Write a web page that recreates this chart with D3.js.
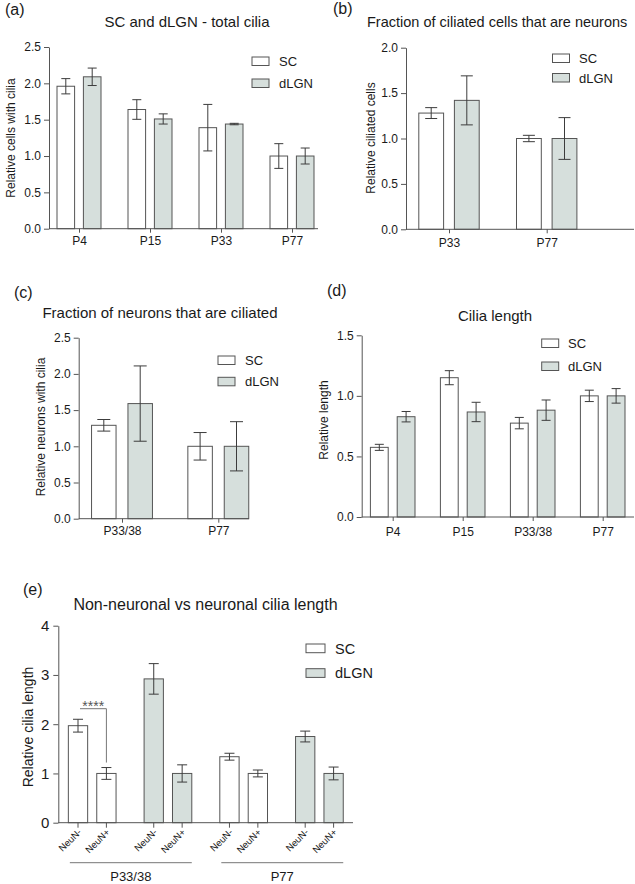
<!DOCTYPE html>
<html><head><meta charset="utf-8">
<script src="https://cdn.jsdelivr.net/npm/d3@7"></script>
<style>
body{margin:0;background:#fff}
svg{display:block}
text{font-family:"Liberation Sans",Arial,sans-serif;fill:#1a1a1a}
</style>
</head><body>
<svg id="fig" width="635" height="884"></svg>
<script>
// ---------------- DATA ----------------
const seriesNames = ["SC", "dLGN"];

// (a) SC and dLGN - total cilia
const aCategories = ["P4", "P15", "P33", "P77"];
const aSC = [1.96, 1.64, 1.39, 1.00];
const aSCerr = [0.105, 0.135, 0.32, 0.17];
const aDLGN = [2.09, 1.51, 1.44, 1.00];
const aDLGNerr = [0.12, 0.07, 0.01, 0.11];
const aTicks = [0, 0.5, 1.0, 1.5, 2.0, 2.5];

// (b) Fraction of ciliated cells that are neurons
const bCategories = ["P33", "P77"];
const bSC = [1.28, 1.00];
const bSCerr = [0.06, 0.035];
const bDLGN = [1.42, 1.00];
const bDLGNerr = [0.27, 0.23];
const bTicks = [0, 0.5, 1.0, 1.5, 2.0];

// (c) Fraction of neurons that are ciliated
const cCategories = ["P33/38", "P77"];
const cSC = [1.29, 1.00];
const cSCerr = [0.08, 0.19];
const cDLGN = [1.59, 1.00];
const cDLGNerr = [0.52, 0.34];
const cTicks = [0, 0.5, 1.0, 1.5, 2.0, 2.5];

// (d) Cilia length
const dCategories = ["P4", "P15", "P33/38", "P77"];
const dSC = [0.575, 1.15, 0.775, 1.00];
const dSCerr = [0.025, 0.058, 0.047, 0.047];
const dDLGN = [0.828, 0.867, 0.882, 1.00];
const dDLGNerr = [0.043, 0.08, 0.084, 0.06];
const dTicks = [0, 0.5, 1.0, 1.5];

// (e) Non-neuronal vs neuronal cilia length
const eAges = ["P33/38", "P77"];
const eSubs = ["NeuN-", "NeuN+"];
const eAgeOf = ["P33/38", "P33/38", "P33/38", "P33/38", "P77", "P77", "P77", "P77"];
const eSeriesOf = ["SC", "SC", "dLGN", "dLGN", "SC", "SC", "dLGN", "dLGN"];
const eSubOf = ["NeuN-", "NeuN+", "NeuN-", "NeuN+", "NeuN-", "NeuN+", "NeuN-", "NeuN+"];
const eValues = [1.97, 1.00, 2.92, 1.00, 1.34, 1.00, 1.75, 1.00];
const eErrors = [0.13, 0.12, 0.31, 0.175, 0.07, 0.07, 0.11, 0.13];
const eTicks = [0, 1, 2, 3, 4];
const eSignif = "****";

// ---------------- STYLE ----------------
const FILL = {SC: "#ffffff", dLGN: "#d6dfdc"};
const STROKE = "#555555";
const ERR = "#3c3c3c";

const svg = d3.select("#fig");

function styleAxis(g) {
  g.selectAll("path,line").attr("stroke", STROKE).attr("stroke-width", 1);
  g.selectAll("text").attr("fill", "#1a1a1a");
}

function legend(g, x, y0, dy, bw, bh, tx, fs, by) {
  seriesNames.forEach((s, i) => {
    const yy = y0 + i * dy;
    g.append("rect").attr("x", x).attr("y", yy).attr("width", bw).attr("height", bh)
      .attr("fill", FILL[s]).attr("stroke", STROKE).attr("stroke-width", 1);
    g.append("text").attr("x", tx).attr("y", yy + by).attr("font-size", fs).text(s);
  });
}

function errorBar(g, cx, y, v, e, cap) {
  const y1 = y(v + e), y2 = y(v - e);
  g.append("line").attr("x1", cx).attr("x2", cx).attr("y1", y1).attr("y2", y2)
    .attr("stroke", ERR).attr("stroke-width", 1);
  [y1, y2].forEach(yy => g.append("line").attr("x1", cx - cap).attr("x2", cx + cap)
    .attr("y1", yy).attr("y2", yy).attr("stroke", ERR).attr("stroke-width", 1));
}

function grouped(cfg) {
  const g = svg.append("g");
  const y = d3.scaleLinear().domain([0, cfg.ymax]).range([cfg.yBot, cfg.yTop]);
  const x = d3.scalePoint().domain(cfg.cats).range(cfg.centers);
  const series = [
    {name: "SC", vals: cfg.sc, errs: cfg.scErr, off: -cfg.off},
    {name: "dLGN", vals: cfg.dl, errs: cfg.dlErr, off: cfg.off}
  ];
  series.forEach(s => {
    cfg.cats.forEach((c, i) => {
      const cx = x(c) + s.off;
      g.append("rect").attr("x", cx - cfg.bw / 2).attr("y", y(s.vals[i]))
        .attr("width", cfg.bw).attr("height", y(0) - y(s.vals[i]))
        .attr("fill", FILL[s.name]).attr("stroke", STROKE).attr("stroke-width", 1);
      errorBar(g, cx, y, s.vals[i], s.errs[i], cfg.cap);
    });
  });
  const ya = g.append("g").attr("transform", `translate(${cfg.x0},0)`)
    .call(d3.axisLeft(y).tickValues(cfg.ticks).tickFormat(d3.format(".1f"))
      .tickSize(5).tickSizeOuter(0).tickPadding(3));
  ya.selectAll("text").attr("font-size", cfg.tickFs).style("font-family", "Liberation Sans, Arial, sans-serif");
  styleAxis(ya);
  g.append("line").attr("x1", cfg.x0).attr("x2", cfg.x1).attr("y1", cfg.yBot).attr("y2", cfg.yBot)
    .attr("stroke", STROKE);
  const xa = g.append("g").attr("transform", `translate(0,${cfg.yBot})`)
    .call(d3.axisBottom(x).tickSize(4).tickSizeOuter(0).tickPadding(cfg.xPad));
  xa.select(".domain").remove();
  xa.selectAll("text").attr("font-size", cfg.tickFs).style("font-family", "Liberation Sans, Arial, sans-serif");
  styleAxis(xa);
  g.append("text").attr("x", cfg.plx).attr("y", cfg.ply).attr("font-size", 16).text(cfg.panel);
  g.append("text").attr("x", cfg.tx).attr("y", cfg.ty).attr("font-size", cfg.tfs)
    .attr("text-anchor", cfg.tAnchor || "middle").text(cfg.title);
  g.append("text").attr("transform", `translate(${cfg.ylx},${cfg.yly}) rotate(-90)`)
    .attr("text-anchor", "middle").attr("font-size", 12).text(cfg.ylabel);
  legend(g, cfg.lx, cfg.ly, cfg.ldy, 17, 8.5, cfg.ltx, 13, 9);
}

grouped({panel: "(a)", plx: 5, ply: 15, title: "SC and dLGN - total cilia", tx: 187, ty: 27, tfs: 15,
  ylabel: "Relative cells with cilia", ylx: 15, yly: 138,
  cats: aCategories, sc: aSC, scErr: aSCerr, dl: aDLGN, dlErr: aDLGNerr, ticks: aTicks, ymax: 2.5,
  x0: 49, x1: 318, yTop: 47, yBot: 228.7, centers: [79, 292], off: 13.2, bw: 17.6, cap: 4.5,
  tickFs: 12, xPad: 4, lx: 252, ly: 57, ldy: 22, ltx: 279});

grouped({panel: "(b)", plx: 333, ply: 14, title: "Fraction of ciliated cells that are neurons", tx: 367, ty: 27, tfs: 14.5, tAnchor: "start",
  ylabel: "Relative ciliated cells", ylx: 375, yly: 138,
  cats: bCategories, sc: bSC, scErr: bSCerr, dl: bDLGN, dlErr: bDLGNerr, ticks: bTicks, ymax: 2.0,
  x0: 406, x1: 634, yTop: 47.7, yBot: 229.3, centers: [449, 546.7], off: 17.8, bw: 24.8, cap: 6,
  tickFs: 12, xPad: 5, lx: 552.5, ly: 54, ldy: 19.5, ltx: 579});

grouped({panel: "(c)", plx: 14, ply: 298, title: "Fraction of neurons that are ciliated", tx: 160, ty: 318, tfs: 15,
  ylabel: "Relative neurons with cilia", ylx: 45, yly: 427,
  cats: cCategories, sc: cSC, scErr: cSCerr, dl: cDLGN, dlErr: cDLGNerr, ticks: cTicks, ymax: 2.5,
  x0: 78.7, x1: 249, yTop: 337.7, yBot: 518.7, centers: [122, 218.3], off: 18.2, bw: 24.5, cap: 6.5,
  tickFs: 12, xPad: 4, lx: 218, ly: 356, ldy: 21.3, ltx: 245});

grouped({panel: "(d)", plx: 327, ply: 296, title: "Cilia length", tx: 495, ty: 321, tfs: 15,
  ylabel: "Relative length", ylx: 328, yly: 420,
  cats: dCategories, sc: dSC, scErr: dSCerr, dl: dDLGN, dlErr: dDLGNerr, ticks: dTicks, ymax: 1.5,
  x0: 361.7, x1: 634, yTop: 335.3, yBot: 517, centers: [392.7, 602.7], off: 13.4, bw: 17.8, cap: 4.5,
  tickFs: 12, xPad: 6, lx: 541.7, ly: 339, ldy: 23, ltx: 568});

// ---------------- PANEL (e) ----------------
(function () {
  const g = svg.append("g");
  const x0 = 58.3, x1 = 353, yTop = 625.7, yBot = 822.7;
  const y = d3.scaleLinear().domain([0, 4]).range([yBot, yTop]);
  const slot = i => eAges.indexOf(eAgeOf[i]) * 5.333 + seriesNames.indexOf(eSeriesOf[i]) * 2.667 + eSubs.indexOf(eSubOf[i]);
  const x = d3.scaleLinear().domain([0, 9]).range([78, 333.6]);
  const bw = 19.3;
  eValues.forEach((v, i) => {
    const cx = x(slot(i));
    g.append("rect").attr("x", cx - bw / 2).attr("y", y(v)).attr("width", bw).attr("height", y(0) - y(v))
      .attr("fill", FILL[eSeriesOf[i]]).attr("stroke", STROKE);
    errorBar(g, cx, y, v, eErrors[i], 5);
    g.append("line").attr("x1", cx).attr("x2", cx).attr("y1", yBot).attr("y2", yBot + 5).attr("stroke", STROKE);
    g.append("text").attr("transform", `translate(${cx + 4},${yBot + 10}) rotate(-45)`)
      .attr("text-anchor", "end").attr("font-size", 9.5).text(eSubOf[i]);
  });
  const ya = g.append("g").attr("transform", `translate(${x0},0)`)
    .call(d3.axisLeft(y).tickValues(eTicks).tickFormat(d3.format("d")).tickSize(5).tickSizeOuter(0).tickPadding(4));
  ya.selectAll("text").attr("font-size", 15).style("font-family", "Liberation Sans, Arial, sans-serif");
  styleAxis(ya);
  g.append("line").attr("x1", x0).attr("x2", x1).attr("y1", yBot).attr("y2", yBot).attr("stroke", STROKE);
  eAges.forEach(a => {
    const idx = eAgeOf.map((d, i) => d === a ? i : -1).filter(i => i >= 0);
    const l = x(slot(idx[0])) - bw / 2 + 1.5, r = x(slot(idx[idx.length - 1])) + bw / 2;
    g.append("line").attr("x1", l).attr("x2", r).attr("y1", 862.7).attr("y2", 862.7)
      .attr("stroke", "#777").attr("stroke-width", 1);
    g.append("text").attr("x", (l + r) / 2).attr("y", 881).attr("text-anchor", "middle")
      .attr("font-size", 13).text(a);
  });
  const xa = x(slot(0)) + 2, xb = x(slot(1));
  const yb = 708.7;
  g.append("path").attr("d", `M${xa},${yb}H${xb}V${y(eValues[1] + eErrors[1]) - 5}`)
    .attr("fill", "none").attr("stroke", "#777").attr("stroke-width", 1);
  g.append("text").attr("x", (xa + xb) / 2).attr("y", 710.5).attr("text-anchor", "middle")
    .attr("font-size", 14).style("fill", "#555").text(eSignif);
  g.append("text").attr("x", 23).attr("y", 595).attr("font-size", 16).text("(e)");
  g.append("text").attr("x", 205.5).attr("y", 610).attr("text-anchor", "middle").attr("font-size", 16)
    .text("Non-neuronal vs neuronal cilia length");
  g.append("text").attr("transform", "translate(33,727) rotate(-90)").attr("text-anchor", "middle")
    .attr("font-size", 14).text("Relative cilia length");
  legend(g, 306, 644, 24.7, 19, 8.7, 335, 14.5, 9.5);
})();
</script>
</body></html>
